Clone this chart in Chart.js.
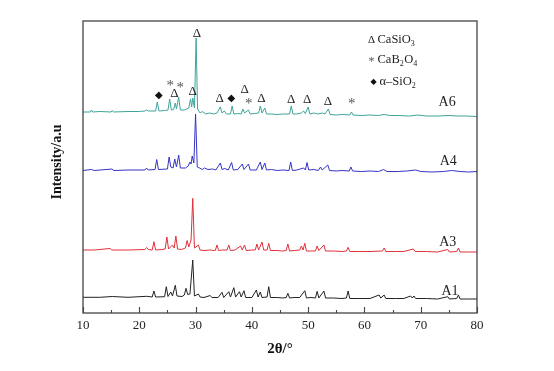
<!DOCTYPE html>
<html>
<head>
<meta charset="utf-8">
<script src="https://cdn.jsdelivr.net/npm/chart.js@4/dist/chart.umd.min.js"></script>
<style>
html,body{margin:0;padding:0;background:#fff;}
canvas{display:block;}
</style>
</head>
<body>
<canvas id="c" width="554" height="371"></canvas>
<script>
// ---- Data (2θ in degrees, intensity in arbitrary units) ----
const xTicks = [10, 20, 30, 40, 50, 60, 70, 80];
const seriesNames = ["A6", "A4", "A3", "A1"];

const a6Theta = [10,11.3,11.5,11.7,13,15.0,15.2,15.4,18,20,21.0,21.3,21.6,22.9,23.2,23.5,24.5,25.1,25.4,25.7,26.1,26.4,26.6,27.0,27.3,28.0,28.8,29.1,29.3,29.5,29.8,30.1,30.35,30.8,31.2,31.8,32.5,33.2,33.8,34.4,34.7,35.1,35.5,36.2,36.5,36.8,37.5,38.1,38.4,38.7,39.4,39.7,40.5,41.2,41.5,41.8,42.3,42.6,43.5,44.5,45.5,46.7,47.0,47.3,48,48.8,49.2,49.5,50.0,50.3,51.0,51.8,52.5,53.0,53.6,53.9,55,56,57.4,57.7,58.0,59.5,61,62.5,63.5,64.5,66,68,69.5,71,73,75,76.5,78,80];
const a6Int   = [201,201,203,201,201.5,201,202.5,201,201.5,201.5,202,203,202,202,211,202,202.5,203,214,203,203.5,210,204,216,203,203,205,214,206,215,205,275,204,200,201.5,199,200,199,200,206,200,202,199,199,207,199,199.5,199,204,200,203,199,199.5,200,207,200,205,199,199,198.5,199,199,207,199,199,200,202,199.5,206,199,200,199,200,199,204,198.5,198,198.5,198,201,198,197.5,198,197.5,198.5,197.5,197.5,197,198,197,197,197.5,197,197,196.5];

const a4Theta = [10,11.5,12,15.2,15.4,18,21.0,21.3,21.6,22.8,23.1,23.4,25.0,25.3,25.6,26.0,26.3,26.6,27.0,27.3,28.2,28.7,29.0,29.2,29.4,29.7,30.0,30.3,30.7,31.2,31.6,32.2,33,33.6,34.4,34.7,35.2,35.8,36.4,36.7,37.5,38.3,38.6,39.4,39.7,40.8,41.5,41.8,42.3,42.6,43.5,44.5,45.5,46.6,46.9,47.2,48,49.2,49.5,49.8,50.1,51,51.8,52.2,52.5,53.5,53.8,55,56,57.3,57.6,57.9,59.5,61,62.5,63.4,64,66,67.5,69.1,70,72,74,75.5,77,78.5,80];
const a4Int   = [142.5,143.5,142.5,144,142.5,143,143,145,143,143.5,153.5,143.5,144,156,146,145,154,146,158,145,145,147,151,149,157,150,199,146,145,143.5,145,143.5,144,143,150,143.5,144.5,143,150.5,143,143.5,149,143.5,149,143,143,151,143.5,150,143,143.5,142.5,143,142.5,151,142.5,143,145,143,150.5,143,143.5,142.5,146,143,148,142.5,142,142.5,142,146,142,141.5,142,141.5,143.5,141.5,141.5,142,143,141.5,141,141.5,142.5,141.5,141,141.5];

const a3Theta = [10,12,14.8,15.1,18,21.0,21.3,21.6,22.3,22.6,22.9,24.0,24.6,24.9,25.2,25.9,26.2,26.5,26.8,27.5,28.2,28.5,28.8,29.2,29.5,29.8,30.5,30.8,31.5,32.5,33.5,33.8,34.1,34.8,35.6,35.9,36.2,37,38.0,38.3,38.7,39.0,40,40.6,40.9,41.2,41.8,42.1,42.7,43.0,43.3,44.5,45.5,46.1,46.4,46.7,47.5,48.5,48.8,49.1,49.4,49.7,50.5,51.3,51.6,51.9,52.8,53.1,54.5,56,56.8,57.1,57.4,59,61,63.2,63.5,63.8,65.5,67,68.7,69,71,73,74.8,75.1,76.4,76.7,77,78.5,80];
const a3Int   = [63,63,64.5,63,63,63.5,65.5,63.5,63,71.3,63,63.5,64,76,64,68,65,77,64,63.5,65,72.5,66,73,114.7,65,68,63,62.5,63,62.5,68,62.5,63,63,68,62.5,63,67,63,68,62.5,63,63,69,63,71,63,63,69.7,62.5,62.5,62,62.5,69,62,62.5,63,67,63,69.7,62,62,62,67,62.5,68,62,62,61.5,62,65.7,61.5,61.5,61.5,62,65,61.5,61.5,61.5,64,61.5,61.5,61,63.5,61,61.5,65,61,61,61];

const a1Theta = [10,13,15.2,18,21.3,22.3,22.6,22.9,24.5,24.8,25.1,25.6,25.9,26.4,26.7,27.6,28.0,28.3,28.6,29.0,29.5,29.8,30.5,30.8,31.5,32.6,32.9,34,34.7,35.0,35.9,36.2,36.8,37.1,37.8,38.1,38.6,38.9,40,40.8,41.1,41.5,41.8,42.7,43.0,43.3,44.5,45.5,46.1,46.4,46.7,47.5,48.5,49.4,49.7,50.5,51.3,51.6,51.9,52.8,53.1,54.5,56,56.8,57.1,57.4,59,61,62.6,62.9,63.5,63.8,65.5,67,68.2,68.5,68.8,69.1,71,73,74.8,75.1,76.4,76.7,77,78.5,80];
const a1Int   = [15.7,15.7,16.5,15.7,16.7,16,22,16,16.3,26.3,16.5,21,17,27.7,17,16.5,18,24.7,18.5,19,53,17,19,16,15.5,17.5,15.5,15.5,20.7,15.5,21.3,16,25.3,16,21.3,16,22.3,15.5,15.5,23,16,21,15.5,16,26.3,15.5,15.5,15,15.5,19.7,15,15.5,15.5,22.3,15,15.5,15,21.7,15,22,15,15,14.5,15,22,14.5,14.5,14.5,18,15,18,14.5,14.5,14.5,17,15,17,14.5,14.5,14,16.3,14,14.5,18,14,14,14];

// Phase markers: 2θ, height (a.u.), symbol
const markTheta  = [23.48, 25.5, 27.28, 26.26, 29.47, 30.25, 34.28, 36.36, 38.73, 39.45, 41.71, 46.98, 49.83, 53.5, 57.74];
const markHeight = [217.7, 230.3, 228, 219, 221.3, 279, 214.7, 214.7, 223, 212.3, 214, 213, 213, 211.3, 212];
const markSymbol = ["◆", "*", "*", "Δ", "Δ", "Δ", "Δ", "◆", "Δ", "*", "Δ", "Δ", "Δ", "Δ", "*"];

// Series label anchors (2θ, height)
const labelTheta  = [74.7, 74.9, 74.8, 75.2];
const labelHeight = [210.7, 151.3, 70.3, 22];

const colors = ["#3fa39b", "#3434c4", "#e0303a", "#222222"];
const thetas = [a6Theta, a4Theta, a3Theta, a1Theta];
const ints = [a6Int, a4Int, a3Int, a1Int];

const SERIF = "'Liberation Serif','Times New Roman',serif";

const deco = {
  id: 'deco',
  afterDraw(chart) {
    const ctx = chart.ctx;
    const xs = chart.scales.x, ys = chart.scales.y;
    const a = chart.chartArea;
    ctx.save();
    // frame
    ctx.strokeStyle = '#444';
    ctx.lineWidth = 1.3;
    ctx.strokeRect(a.left, a.top, a.right - a.left, a.bottom - a.top);
    // ticks (inward)
    ctx.lineWidth = 1.1;
    for (let v = 10; v <= 80; v += 5) {
      const px = Math.round(xs.getPixelForValue(v)) + 0.5;
      const len = (v % 10 === 0) ? 6 : 3;
      ctx.beginPath();
      ctx.moveTo(px, a.bottom);
      ctx.lineTo(px, a.bottom - len);
      ctx.stroke();
    }
    ctx.fillStyle = '#111';
    // axis titles
    ctx.font = "bold 15px " + SERIF;
    ctx.textAlign = 'center';
    ctx.textBaseline = 'middle';
    ctx.fillText('2θ/°', (a.left + a.right) / 2, 349);
    ctx.save();
    ctx.translate(57, 162);
    ctx.rotate(-Math.PI / 2);
    ctx.font = "bold 14px " + SERIF;
    ctx.fillText('Intensity/a.u', 0, 0);
    ctx.restore();
    // series labels
    ctx.font = "14px " + SERIF;
    ctx.fillStyle = '#222';
    seriesNames.forEach((n, i) => {
      ctx.fillText(n, xs.getPixelForValue(labelTheta[i]), ys.getPixelForValue(labelHeight[i]));
    });
    // markers
    markSymbol.forEach((s, i) => {
      const px = xs.getPixelForValue(markTheta[i]);
      const py = ys.getPixelForValue(markHeight[i]);
      if (s === 'Δ') { ctx.font = "13px " + SERIF; ctx.fillStyle = '#222'; }
      else if (s === '*') { ctx.font = "15px " + SERIF; ctx.fillStyle = '#555'; }
      else { ctx.font = "10px 'DejaVu Sans'"; ctx.fillStyle = '#111'; }
      ctx.fillText(s, px, py + (s === '*' ? 3 : 0));
    });
    // legend
    const lx = 371.5, tx = 377.5;
    const rows = [
      {sym: 'Δ', y: 40, parts: [['CaSiO', 0], ['3', 1]]},
      {sym: '*', y: 60, parts: [['CaB', 0], ['2', 1], ['O', 0], ['4', 1]]},
      {sym: '◆', y: 82, parts: [['α–SiO', 0], ['2', 1]]}
    ];
    rows.forEach(r => {
      ctx.textAlign = 'center';
      if (r.sym === 'Δ') { ctx.font = "11px " + SERIF; ctx.fillStyle = '#222'; ctx.fillText(r.sym, lx, r.y); }
      else if (r.sym === '*') { ctx.font = "12px " + SERIF; ctx.fillStyle = '#555'; ctx.fillText(r.sym, lx, r.y + 2); }
      else { ctx.font = "8px 'DejaVu Sans'"; ctx.fillStyle = '#111'; ctx.fillText(r.sym, lx + 2, r.y); }
      ctx.textAlign = 'left';
      ctx.fillStyle = '#222';
      let x = (r.sym === '◆') ? tx + 2 : tx;
      r.parts.forEach(([t, sub]) => {
        ctx.font = (sub ? "8px " : "12.5px ") + SERIF;
        ctx.fillText(t, x, r.y + (sub ? 4 : 0));
        x += ctx.measureText(t).width + (sub ? 0.5 : 0);
      });
    });
    ctx.restore();
  }
};

new Chart(document.getElementById('c'), {
  type: 'line',
  data: {
    datasets: seriesNames.map((n, i) => ({
      label: n,
      data: thetas[i].map((t, j) => ({x: t, y: ints[i][j]})),
      borderColor: colors[i],
      borderWidth: 1,
      pointRadius: 0,
      tension: 0,
      fill: false
    }))
  },
  options: {
    responsive: false,
    animation: false,
    devicePixelRatio: 1,
    layout: {padding: {top: 21, right: 77, left: 0, bottom: 0}},
    plugins: {legend: {display: false}, tooltip: {enabled: false}},
    scales: {
      x: {
        type: 'linear', min: 10, max: 80,
        afterBuildTicks: s => { s.ticks = xTicks.map(v => ({value: v})); },
        ticks: {font: {family: SERIF, size: 13}, color: '#222', padding: 5, maxRotation: 0},
        grid: {display: false, drawTicks: false},
        border: {display: false},
        afterFit: s => { s.height = 58; }
      },
      y: {
        min: 0, max: 292,
        ticks: {display: false},
        grid: {display: false, drawTicks: false},
        border: {display: false},
        afterFit: s => { s.width = 83; }
      }
    }
  },
  plugins: [deco]
});
</script>
</body>
</html>
